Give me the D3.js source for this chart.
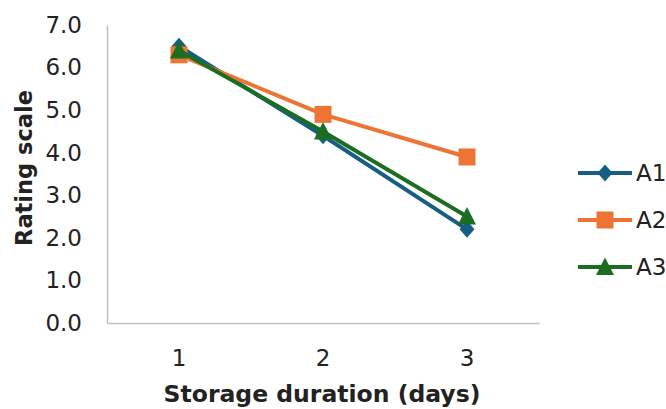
<!DOCTYPE html>
<html><head><meta charset="utf-8">
<script src="https://cdn.jsdelivr.net/npm/d3@7"></script>
<style>body{margin:0;background:#fff}svg{display:block}</style>
</head><body>
<svg id="c" width="666" height="409"></svg>
<script>
const categories = ["1","2","3"];
const seriesNames = ["A1","A2","A3"];
const A1 = [6.5, 4.4, 2.2];
const A2 = [6.3, 4.9, 3.9];
const A3 = [6.4, 4.5, 2.5];
const yTicks = [0,1,2,3,4,5,6,7];
const colors = ["#175e86","#ed7434","#1b6d22"];
const series = [A1, A2, A3];

// custom marker shapes (fixed pixel sizes)
const diamond = {draw(ctx){ctx.moveTo(0,-8.5);ctx.lineTo(7.5,0);ctx.lineTo(0,8.5);ctx.lineTo(-7.5,0);ctx.closePath();}};
const square = {draw(ctx){ctx.rect(-8.5,-8.5,17,17);}};
const triangle = {draw(ctx){ctx.moveTo(0,-9.5);ctx.lineTo(9,8);ctx.lineTo(-9,8);ctx.closePath();}};
const symbols = [diamond, square, triangle];

const svg = d3.select("#c");
const font = "DejaVu Sans, Verdana, sans-serif";
const m = {left:107, right:539, top:25, bottom:323};
const x = d3.scaleBand().domain(categories).range([m.left, m.right]);
const y = d3.scaleLinear().domain([0,7]).range([m.bottom, m.top]);

// axes
const yAxis = svg.append("g").attr("transform",`translate(${m.left},0)`)
  .call(d3.axisLeft(y).tickValues(yTicks).tickSize(0).tickPadding(25).tickFormat(d3.format(".1f")));
const xAxis = svg.append("g").attr("transform",`translate(0,${m.bottom})`)
  .call(d3.axisBottom(x).tickSize(0).tickPadding(27));
[yAxis,xAxis].forEach(a=>{
  a.select(".domain").attr("stroke","#bfbfbf").attr("stroke-width",1.5);
  a.selectAll("text").attr("font-family",font).attr("font-size",23).attr("fill","#222");
});

// titles
svg.append("text").attr("transform",`translate(32,168) rotate(-90)`)
  .attr("text-anchor","middle").attr("font-family",font).attr("font-weight","bold")
  .attr("font-size",22.5).attr("fill","#222").text("Rating scale");
svg.append("text").attr("x",322).attr("y",402)
  .attr("text-anchor","middle").attr("font-family",font).attr("font-weight","bold")
  .attr("font-size",23.5).attr("fill","#222").text("Storage duration (days)");

// lines
const line = d3.line().x((d,i)=>x(categories[i])+x.bandwidth()/2).y(d=>y(d));
series.forEach((s,k)=>{
  const g = svg.append("g");
  g.append("path").datum(s).attr("d",line).attr("fill","none")
    .attr("stroke",colors[k]).attr("stroke-width",4);
  g.selectAll("path.m").data(s).join("path").attr("class","m")
    .attr("transform",(d,i)=>`translate(${x(categories[i])+x.bandwidth()/2},${y(d)})`)
    .attr("d",d3.symbol().type(symbols[k])).attr("fill",colors[k]);
});

// legend
const legY = d3.scalePoint().domain(seriesNames).range([173,267]);
seriesNames.forEach((n,k)=>{
  const g = svg.append("g").attr("transform",`translate(0,${legY(n)})`);
  g.append("line").attr("x1",578).attr("x2",632).attr("stroke",colors[k]).attr("stroke-width",4);
  g.append("path").attr("transform","translate(605,0)")
    .attr("d",d3.symbol().type(symbols[k])).attr("fill",colors[k]);
  g.append("text").attr("x",636).attr("y",0).attr("dy","0.36em")
    .attr("font-family",font).attr("font-size",23).attr("fill","#222").text(n);
});
</script>
</body></html>
